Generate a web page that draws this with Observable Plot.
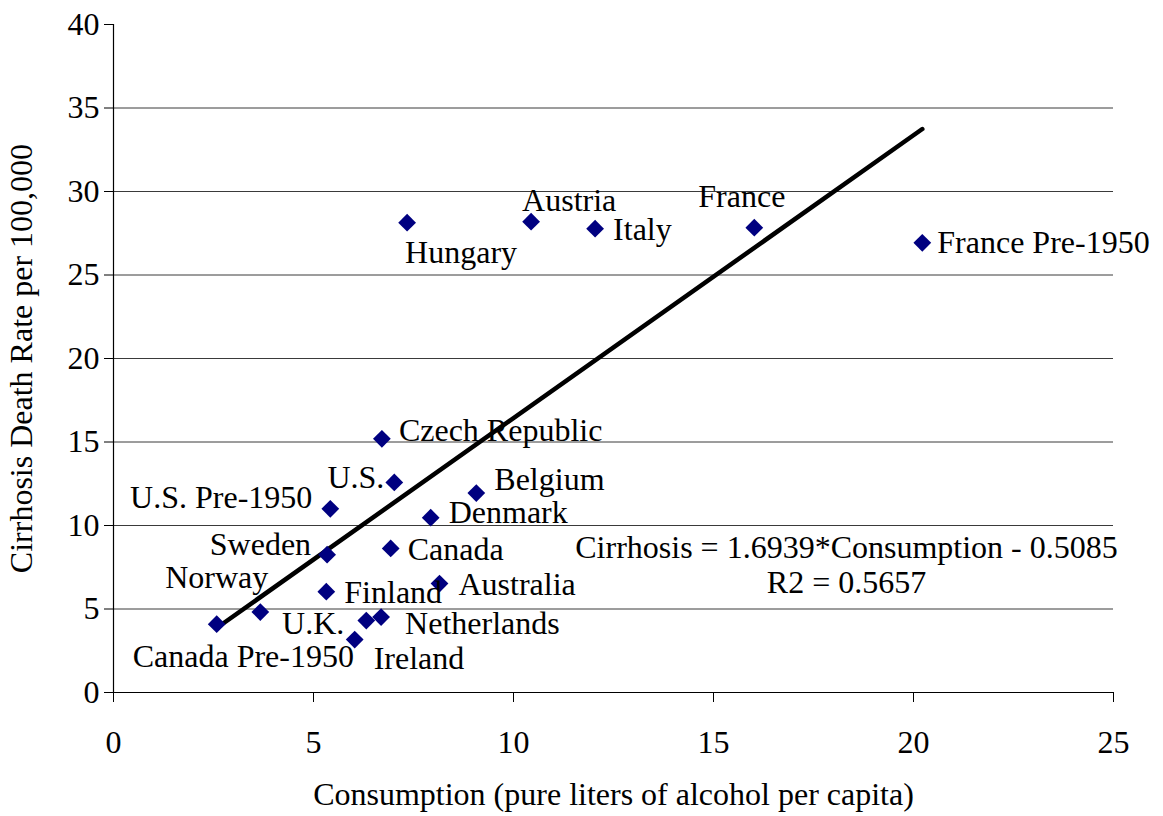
<!DOCTYPE html>
<html>
<head>
<meta charset="utf-8">
<script src="https://cdn.jsdelivr.net/npm/d3@7"></script>
<script src="https://cdn.jsdelivr.net/npm/@observablehq/plot@0.6"></script>
<style>
  html, body { margin: 0; padding: 0; background: white; }
  #chart svg { display: block; }
</style>
</head>
<body>
<div id="chart"></div>
<script>
// ---- Data ----
const countries = [
  "Canada Pre-1950", "Norway", "Sweden", "U.S. Pre-1950", "Finland", "Ireland",
  "U.K.", "Netherlands", "Czech Republic", "U.S.", "Canada", "Denmark",
  "Australia", "Belgium", "Hungary", "Austria", "Italy", "France", "France Pre-1950"
];
const consumption = [
  2.58, 3.67, 5.34, 5.42, 5.32, 6.03,
  6.32, 6.69, 6.71, 7.02, 6.93, 7.93,
  8.15, 9.07, 7.34, 10.44, 12.04, 16.02, 20.22
];
const cirrhosis = [
  4.09, 4.82, 8.25, 11.0, 6.04, 3.17,
  4.31, 4.52, 15.19, 12.58, 8.63, 10.47,
  6.52, 11.94, 28.13, 28.19, 27.77, 27.83, 26.93
];
const xTicks = [0, 5, 10, 15, 20, 25];
const yTicks = [0, 5, 10, 15, 20, 25, 30, 35, 40];
const gridTicks = [5, 10, 15, 20, 25, 30, 35];
const slope = 1.6939;
const intercept = -0.5085;
const r2 = 0.5657;

// ---- Label placement (layout only) ----
const labelPlacement = {
  "Canada Pre-1950": ["start", -84, 33],
  "Norway": ["end", 8, -34],
  "Sweden": ["end", -16, -10],
  "U.S. Pre-1950": ["end", -18, -11],
  "Finland": ["start", 18, 1],
  "Ireland": ["start", 19, 19],
  "U.K.": ["end", -22, 3],
  "Netherlands": ["start", 24, 7],
  "Czech Republic": ["start", 17, -8],
  "U.S.": ["end", -10, -5],
  "Canada": ["start", 17, 1],
  "Denmark": ["start", 18, -5],
  "Australia": ["start", 19, 1],
  "Belgium": ["start", 18, -13],
  "Hungary": ["start", -2, 30],
  "Austria": ["start", -9, -21],
  "Italy": ["start", 18, 1],
  "France": ["start", -56, -31],
  "France Pre-1950": ["start", 15, 0]
};

const data = countries.map((c, i) => ({country: c, x: consumption[i], y: cirrhosis[i]}));
const xMin = d3.min(consumption), xMax = d3.max(consumption);
const trend = [xMin, xMax].map(x => ({x, y: slope * x + intercept}));

const font = "'Liberation Serif', 'Times New Roman', serif";
const fs = 32;

const labelMarks = data.map(d => Plot.text([d], {
  x: "x", y: "y", text: "country",
  textAnchor: labelPlacement[d.country][0],
  dx: labelPlacement[d.country][1],
  dy: labelPlacement[d.country][2],
  fill: "black", fontSize: fs
}));

const chart = Plot.plot({
  width: 1163,
  height: 816,
  marginLeft: 113,
  marginRight: 50,
  marginTop: 24,
  marginBottom: 124,
  style: {fontFamily: font, fontSize: fs + "px", background: "white", color: "black", overflow: "visible"},
  x: {domain: [0, 25]},
  y: {domain: [0, 40]},
  marks: [
    Plot.ruleY(gridTicks, {stroke: "#3a3a3a", strokeWidth: 1}),
    Plot.axisX({
      ticks: xTicks, tickSize: 10, tickPadding: 28, fontSize: fs,
      tickFormat: d => String(d),
      label: "Consumption (pure liters of alcohol per capita)",
      labelAnchor: "center", labelArrow: "none", labelOffset: 112
    }),
    Plot.axisY({
      ticks: yTicks, tickSize: 9, tickPadding: 5, fontSize: fs,
      tickFormat: d => String(d),
      label: "Cirrhosis Death Rate per 100,000",
      labelAnchor: "center", labelArrow: "none", labelOffset: 104
    }),
    Plot.ruleX([0], {stroke: "black", strokeWidth: 1.2}),
    Plot.ruleY([0], {stroke: "black", strokeWidth: 1.2}),
    Plot.line(trend, {x: "x", y: "y", stroke: "black", strokeWidth: 4.5}),
    Plot.dot(data, {x: "x", y: "y", symbol: "diamond2", r: 8, fill: "#000080", stroke: "none"}),
    ...labelMarks,
    Plot.text([`Cirrhosis = ${slope}*Consumption - ${Math.abs(intercept)}\nR2 = ${r2}`], {
      frameAnchor: "bottom-right", textAnchor: "middle", dx: -267, dy: -160,
      lineAnchor: "top", lineHeight: 1.1, fontSize: fs, fill: "black"
    })
  ]
});
document.getElementById("chart").appendChild(chart);
</script>
</body>
</html>
